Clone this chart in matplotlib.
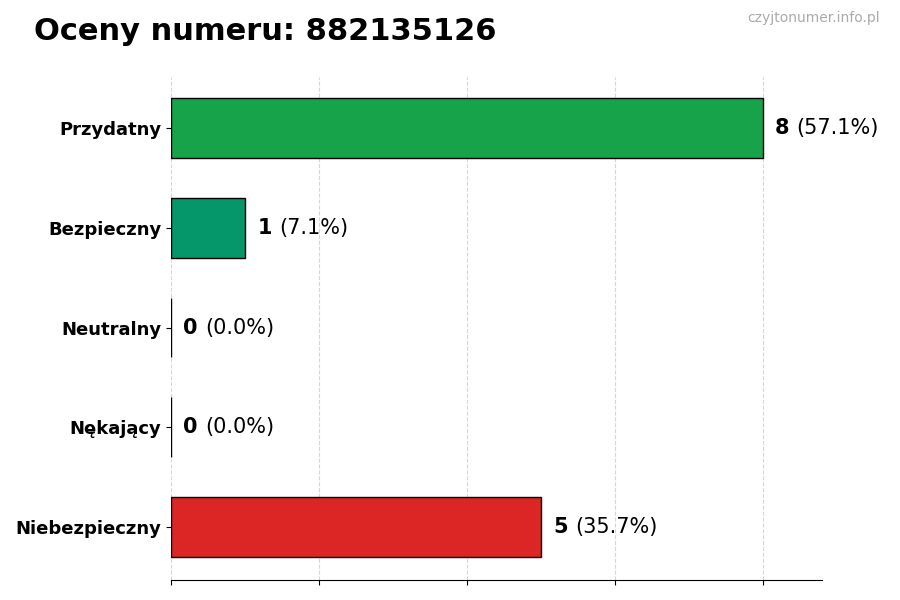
import numpy as np
import matplotlib
matplotlib.use("Agg")
import matplotlib.pyplot as plt

categories = ["Przydatny", "Bezpieczny", "Neutralny", "Nękający", "Niebezpieczny"]
counts = [8, 1, 0, 0, 5]
colors = ["#16a34a", "#059669", "#6b7280", "#ea580c", "#dc2626"]
title = "Oceny numeru: 882135126"
watermark = "czyjtonumer.info.pl"

total = sum(counts)
percents = [100.0 * c / total for c in counts]

fig = plt.figure(figsize=(9, 6), dpi=100)
ax = fig.add_axes([0.19, 0.0333, 0.723, 0.8384])

y = np.arange(len(categories))
ax.barh(y, counts, height=0.6, color=colors, edgecolor="black", linewidth=1, zorder=2)
ax.set_yticks(y)
ax.set_yticklabels(categories, fontsize=13, fontweight="bold")
ax.set_ylim(len(categories) - 0.47, -0.51)
ax.set_xlim(0, max(counts) * 1.1)
ax.set_xticks(np.arange(0, max(counts) + 1, 2))
ax.set_xticklabels([])
ax.grid(axis="x", linestyle="--", color="#cccccc", alpha=0.8, zorder=0)

for side in ("top", "right", "left"):
    ax.spines[side].set_visible(False)

for yi, c, p in zip(y, counts, percents):
    t = ax.annotate(str(c), xy=(c, yi), xytext=(9, 0), textcoords="offset points",
                    fontsize=15, fontweight="bold", va="center", ha="left")
    ax.annotate(f"({p:.1f}%)", xy=(1, 0), xycoords=t, xytext=(5, 0),
                textcoords="offset points", fontsize=15, va="bottom", ha="left")

fig.text(0.038, 0.948, title, fontsize=22, fontweight="bold", va="center", ha="left")
fig.text(0.978, 0.97, watermark, fontsize=10, color="#aaaaaa", va="center", ha="right")

fig.savefig("out.png", dpi=100)
